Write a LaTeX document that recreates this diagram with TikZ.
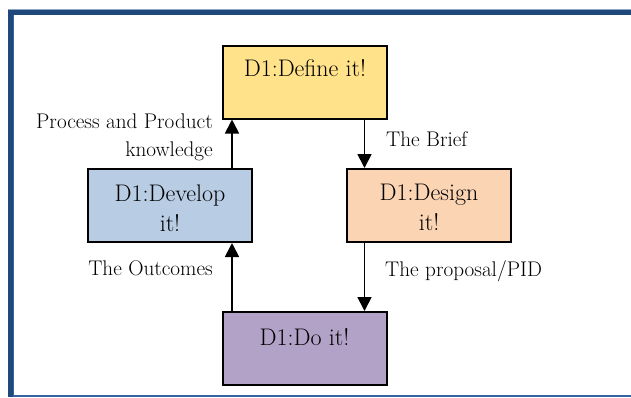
\documentclass[tikz,border=0pt]{standalone}
\usepackage{fontspec}
\usetikzlibrary{arrows.meta}
\definecolor{framedark}{HTML}{1F497D}
\definecolor{framelight}{HTML}{8EA6C4}
\definecolor{framemid}{HTML}{3565A0}
\definecolor{definefill}{HTML}{FFE28A}
\definecolor{developfill}{HTML}{B8CCE4}
\definecolor{designfill}{HTML}{FBD4B4}
\definecolor{dofill}{HTML}{B2A2C7}
\newcommand\boxtxt[2]{\parbox[c][73pt][t]{164pt}{\centering\fontsize{24}{30}\selectfont\vspace*{#1}#2\par}}
\begin{document}
\begin{tikzpicture}[x=1pt,y=-1pt,
  procbox/.style={draw=black,line width=2pt,inner sep=0pt,minimum width=164pt,minimum height=72pt},
  lbl/.style={inner sep=0pt,font=\fontsize{21.2}{28}\selectfont},
  arr/.style={line width=1.8pt,-{Triangle[length=14pt,width=14pt]}}]
\useasboundingbox (0,0) rectangle (631,397);
% frame
\fill[framelight] (8,9) rectangle (631,10.5);
\fill[framedark] (8,10.3) rectangle (631,15);
\fill[framedark] (8,10.3) rectangle (13,397);
\fill[framemid] (13,15) rectangle (14.2,397);
\fill[framemid] (13,394.6) rectangle (631,396.6);
% boxes
\node[procbox,fill=definefill] (define) at (305,82) {\boxtxt{14pt}{D1:Define it!}};
\node[procbox,fill=developfill] (develop) at (170,205.5) {\boxtxt{16pt}{D1:Develop\\it!}};
\node[procbox,fill=designfill] (design) at (429,205.5) {\boxtxt{15pt}{D1:Design\\it!}};
\node[procbox,fill=dofill] (do) at (304.5,348.5) {\boxtxt{16pt}{D1:Do it!}};
% arrow columns
\coordinate (xl) at (232,0);
\coordinate (xr) at (364.5,0);
\draw[arr] (develop.north -| xl) -- (define.south -| xl);
\draw[arr] (define.south -| xr) -- (design.north -| xr);
\draw[arr] (design.south -| xr) -- (do.north -| xr);
\draw[arr] (do.north -| xl) -- (develop.south -| xl);
% labels
\node[lbl,anchor=north east,align=right] (lknow) at (213,113.5) {Process and Product\\knowledge};
\node[lbl,anchor=base west] (lbrief) at (386,146) {The Brief};
\node[lbl,anchor=base east] (lout) at (213,275) {The Outcomes};
\node[lbl,anchor=base west] (lprop) at (385,276) {The proposal/PID};
\end{tikzpicture}
\end{document}
